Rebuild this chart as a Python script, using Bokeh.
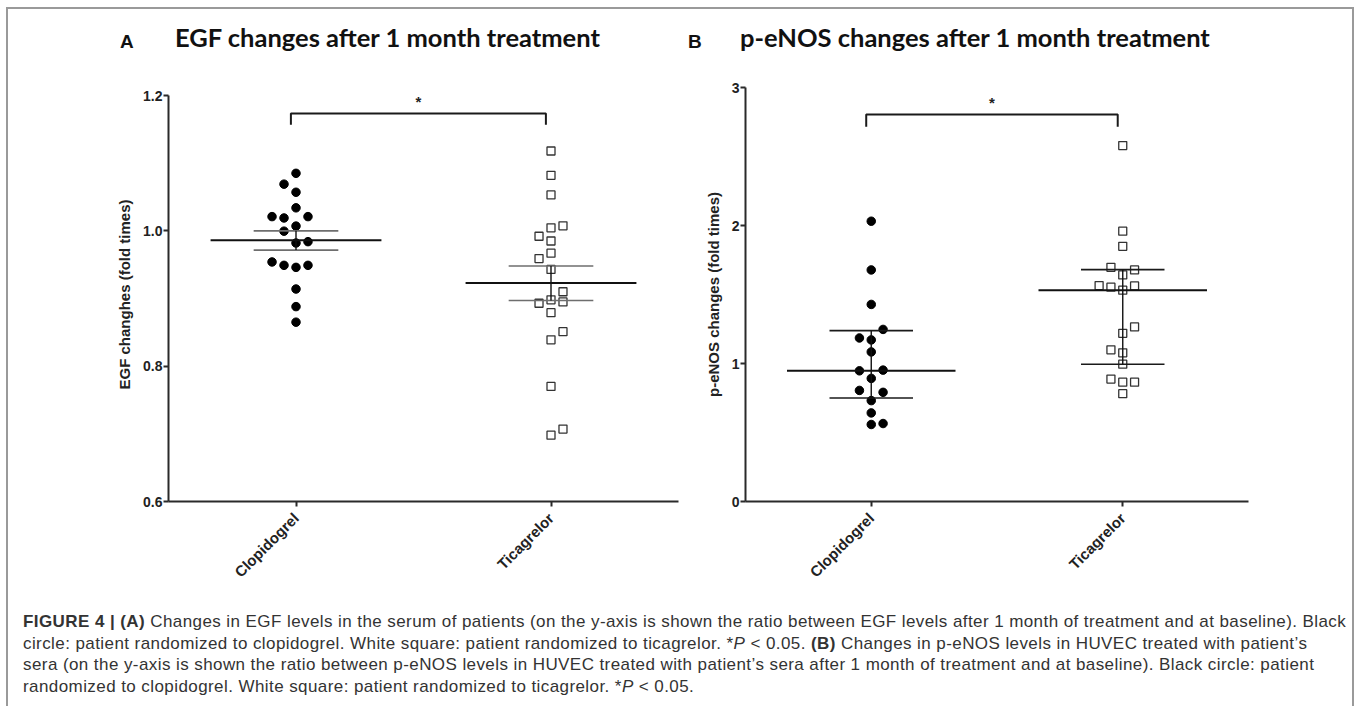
import math
from bokeh.plotting import figure
from bokeh.models import Range1d, FixedTicker, Div
from bokeh.layouts import row, column
from bokeh.core.properties import value
from bokeh.embed import file_html
from bokeh.resources import INLINE

# ---------------- data ----------------
groups = ["Clopidogrel", "Ticagrelor"]
group_pos = [1, 2]

# Panel A: EGF changes (fold times)
egf_clop = [1.085, 1.069, 1.057, 1.034, 1.021, 1.019, 1.021, 1.007, 0.9995,
            0.982, 0.984, 0.954, 0.949, 0.946, 0.949, 0.914, 0.888, 0.865]
egf_clop_slot = [0, -1, 0, 0, -2, -1, 1, 0, -1, 0, 1, -2, -1, 0, 1, 0, 0, 0]
egf_tica = [1.118, 1.082, 1.053, 1.0045, 1.0074, 0.992, 0.985, 0.967, 0.959,
            0.943, 0.910, 0.893, 0.898, 0.895, 0.879, 0.851, 0.839, 0.770,
            0.707, 0.698]
egf_tica_slot = [0, 0, 0, 0, 1, -1, 0, 0, -1, 0, 1, -1, 0, 1, 0, 1, 0, 0, 1, 0]
egf_mean = [0.986, 0.923]
egf_err_hi = [1.000, 0.948]
egf_err_lo = [0.9715, 0.897]
egf_ticks = [0.6, 0.8, 1.0, 1.2]
egf_sig_level = 1.1735
egf_sig_leg = 1.1567
egf_star = 1.191

# Panel B: p-eNOS changes (fold times)
enos_clop = [2.031, 1.678, 1.428, 1.247, 1.185, 1.171, 1.084, 0.947, 0.952,
             0.892, 0.805, 0.791, 0.731, 0.642, 0.558, 0.565]
enos_clop_slot = [0, 0, 0, 1, -1, 0, 0, -1, 1, 0, -1, 1, 0, 0, 0, 1]
enos_tica = [2.579, 1.959, 1.849, 1.697, 1.678, 1.642, 1.565, 1.553, 1.562,
             1.531, 1.265, 1.219, 1.099, 1.077, 0.995, 0.887, 0.865, 0.865,
             0.781]
enos_tica_slot = [0, 0, 0, -1, 1, 0, -2, -1, 1, 0, 1, 0, -1, 0, 0, -1, 0, 1, 0]
enos_mean = [0.947, 1.531]
enos_err_hi = [1.238, 1.680]
enos_err_lo = [0.750, 0.995]
enos_ticks = [0, 1, 2, 3]
enos_sig_level = 2.805
enos_sig_leg = 2.716
enos_star = 2.89

titles = ["EGF changes after 1 month treatment", "p-eNOS changes after 1 month treatment"]
letters = ["A", "B"]
ylabels = ["EGF changhes (fold times)", "p-eNOS changes (fold times)"]

caption_lines = [
    "<b>FIGURE 4 | (A)</b> Changes in EGF levels in the serum of patients (on the y-axis is shown the ratio between EGF levels after 1 month of treatment and at baseline). Black",
    "circle: patient randomized to clopidogrel. White square: patient randomized to ticagrelor. *<i>P</i> &lt; 0.05. <b>(B)</b> Changes in p-eNOS levels in HUVEC treated with patient\u2019s",
    "sera (on the y-axis is shown the ratio between p-eNOS levels in HUVEC treated with patient\u2019s sera after 1 month of treatment and at baseline). Black circle: patient",
    "randomized to clopidogrel. White square: patient randomized to ticagrelor. *<i>P</i> &lt; 0.05.",
]

AX_FONT = "Liberation Sans"
TITLE_FONT = "Lato"
SLOT = 0.047

# layout (absolute px): content origin (8, 9); title strip 9-69; frames top at 87, bottom 501
TITLE_H = 60
BT = 18
FH = 414


def make_panel(ylabel, yr, yticks, tick_fmt, clop, clop_slot, tica, tica_slot,
               means, hi, lo, sig_level, sig_leg, star_y, sem_color,
               bl, fw, br, top_pad_px):
    # extend the range above the top tick so both frames share the same top edge
    span = (yr[1] - yr[0]) * FH / (FH - top_pad_px)
    p = figure(output_backend="svg", toolbar_location=None,
               frame_width=fw, frame_height=FH,
               min_border_left=bl, min_border_right=br,
               min_border_top=BT, min_border_bottom=99,
               x_range=Range1d(0.5, 2.5), y_range=Range1d(yr[0], yr[0] + span))
    p.background_fill_color = "white"
    p.border_fill_color = "white"
    p.outline_line_color = None
    p.grid.visible = False

    for ax in (p.xaxis[0], p.yaxis[0]):
        ax.axis_line_width = 2
        ax.axis_line_color = "#2a2a2a"
        ax.major_tick_line_width = 2
        ax.major_tick_line_color = "#2a2a2a"
        ax.major_tick_out = 5
        ax.major_tick_in = 0
        ax.minor_tick_line_color = None
        ax.major_label_text_font = AX_FONT
        ax.major_label_text_font_style = "bold"
        ax.major_label_text_color = "#222"

    p.yaxis.bounds = (yr[0], yr[1])
    p.yaxis.ticker = FixedTicker(ticks=yticks)
    p.yaxis.major_label_overrides = {t: tick_fmt.format(t) for t in yticks}
    p.yaxis.major_label_text_font_size = "14px"
    p.yaxis.major_label_standoff = 1
    p.yaxis.axis_label = ylabel
    p.yaxis.axis_label_text_font = AX_FONT
    p.yaxis.axis_label_text_font_style = "bold"
    p.yaxis.axis_label_text_font_size = "15px"
    p.yaxis.axis_label_text_color = "#222"
    p.yaxis.axis_label_standoff = 7

    p.xaxis.ticker = FixedTicker(ticks=group_pos)
    p.xaxis.major_label_overrides = {g: n for g, n in zip(group_pos, groups)}
    p.xaxis.major_label_orientation = math.pi / 4
    p.xaxis.major_label_text_font_size = "15px"
    p.xaxis.major_label_standoff = 9

    # points
    xc = [group_pos[0] + s * SLOT for s in clop_slot]
    xt = [group_pos[1] + s * SLOT for s in tica_slot]
    p.scatter(xc, clop, marker="circle", size=8.5, fill_color="black",
              line_color="black")
    p.scatter(xt, tica, marker="square", size=8, fill_color="white",
              line_color="#333", line_width=1.3)

    # mean and error bars
    p.segment(x0=[g - 0.335 for g in group_pos], x1=[g + 0.335 for g in group_pos],
              y0=means, y1=means, line_color="#111", line_width=2)
    p.segment(x0=[g - 0.166 for g in group_pos], x1=[g + 0.166 for g in group_pos],
              y0=hi, y1=hi, line_color=sem_color, line_width=1.6)
    p.segment(x0=[g - 0.166 for g in group_pos], x1=[g + 0.166 for g in group_pos],
              y0=lo, y1=lo, line_color=sem_color, line_width=1.6)
    p.segment(x0=group_pos, x1=group_pos, y0=lo, y1=hi,
              line_color="#111", line_width=1.4)

    # significance bracket
    bx0 = group_pos[0] - 0.02
    bx1 = group_pos[1] - 0.02
    p.line([bx0, bx0, bx1, bx1], [sig_leg, sig_level, sig_level, sig_leg],
           line_color="#1a1a1a", line_width=2)
    p.text(x=[(bx0 + bx1) / 2], y=[star_y], text=["*"], text_align="center",
           text_baseline="middle", text_font=value(AX_FONT),
           text_font_style="bold", text_font_size="15px", text_color="#222")
    return p


pA = make_panel(ylabels[0], (0.6, 1.2), egf_ticks, "{:.1f}", egf_clop, egf_clop_slot,
                egf_tica, egf_tica_slot, egf_mean, egf_err_hi, egf_err_lo,
                egf_sig_level, egf_sig_leg, egf_star, "#6e6e6e",
                bl=160, fw=510, br=2, top_pad_px=8)
pB = make_panel(ylabels[1], (0, 3), enos_ticks, "{:d}", enos_clop, enos_clop_slot,
                enos_tica, enos_tica_slot, enos_mean, enos_err_hi, enos_err_lo,
                enos_sig_level, enos_sig_leg, enos_star, "#1a1a1a",
                bl=65, fw=503, br=104, top_pad_px=0)

# titles strip (positions relative to the content origin)
letter_left = [112, 680]
title_left = [167, 732]
spans = []
for i in range(2):
    spans.append(
        f"<span style=\"position:absolute;left:{letter_left[i]}px;top:23px;line-height:1;"
        f"font-family:'{AX_FONT}';font-weight:bold;font-size:19px;color:#111;white-space:nowrap;\">"
        f"{letters[i]}</span>")
    spans.append(
        f"<span style=\"position:absolute;left:{title_left[i]}px;top:16.4px;line-height:1;"
        f"font-family:'{TITLE_FONT}';font-weight:bold;font-size:25.5px;color:#111;white-space:nowrap;\">"
        f"{titles[i]}</span>")
title_div = Div(text=f"<div style=\"position:relative;width:1344px;height:{TITLE_H}px;\">"
                + "".join(spans) + "</div>",
                width=1344, height=TITLE_H, margin=0)

cap_html = ("<div style=\"font-family:'Liberation Sans',Arial,sans-serif;font-size:17px;"
            "letter-spacing:0.42px;line-height:21.7px;color:#333;padding:11px 0 0 15px;"
            "white-space:nowrap;\">" + "<br>".join(caption_lines) + "</div>")
cap = Div(text=cap_html, width=1344, height=106, margin=0)

layout = column(title_div, row(pA, pB), cap, margin=(7, 0, 0, 6),
                styles={"border-top": "2px solid #9a9a9a",
                        "border-left": "2px solid #9a9a9a",
                        "border-right": "2px solid #9a9a9a",
                        "background": "white"})

open("out.html", "w").write(file_html(layout, INLINE))
